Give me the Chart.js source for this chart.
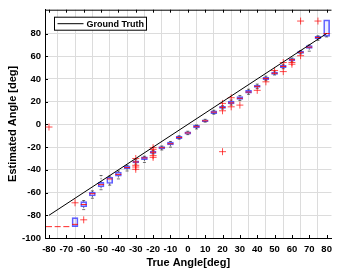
<!DOCTYPE html>
<html><head><meta charset="utf-8">
<script src="https://cdn.jsdelivr.net/npm/chart.js@4/dist/chart.umd.min.js"></script>
<style>html,body{margin:0;padding:0;background:#fff;}canvas{display:block;}</style>
</head><body>
<canvas id="c" width="338" height="274"></canvas>
<script>
// ---- data ----
const positions   = [-80,-75,-70,-65,-60,-55,-50,-45,-40,-35,-30,-25,-20,-15,-10,-5,0,5,10,15,20,25,30,35,40,45,50,55,60,65,70,75,80];
const q1          = [-90,-90,-90,-90,-72.5,-63,-55,-52,-45.5,-39,-34,-31,-25.5,-21.5,-18,-12.5,-8.5,-3,2.5,9.5,14,18,22,27.5,32.5,39.5,44,50,56,62.5,67,75.5,77.5];
const medians     = [-90,-90,-90,-88,-70.5,-61,-53,-48,-44,-38,-33,-29.5,-24.5,-20.5,-17,-11.5,-7.5,-2,3.2,10.8,15,19,23,28.5,33.5,40.5,45,51,57,63.5,68,76.5,80];
const q3          = [-90,-90,-90,-82,-68,-59.5,-51,-46.5,-42,-36.5,-32,-28.5,-23.5,-19.5,-15.5,-10.5,-6.5,-0.8,4,12,16,20.5,24.5,30,34.5,41.5,46,52,58,64.5,69.5,77.5,92];
const whiskerLow  = [-90,-90,-90,-90,-75,-65,-57.5,-53.5,-48,-41,-35,-33.5,-26,-22.5,-20,-13,-9,-4,2,9,13.5,17,21,26.5,31.5,38.5,43.5,49,55,62,64.5,74,77];
const whiskerHigh = [-90,-90,-90,-82,-67,-58.5,-45,-45.5,-41,-36,-31,-28,-23,-19,-15,-10,-6,-0.5,4.5,12.5,16.5,21.5,25.5,31,35.5,42.5,47,53,58.5,65,70,78,92];
const outlierX    = [-80,-65,-60,-30,-30,-30,-30,-20,-20,-20,-20,20,20,20,25,25,30,40,45,50,55,55,60,60,65,65,75];
const outlierY    = [-2.3,-69,-84,-30,-36,-37.5,-39.5,-20.5,-22,-27.5,-29,-24,18.5,12,23.5,15.5,17,30,37.5,47.5,54.5,46.5,54.5,53,60.5,91,91];
const truthX      = [-80, 80];
const truthY      = [-80, 80];
const xTicks      = [-80,-70,-60,-50,-40,-30,-20,-10,0,10,20,30,40,50,60,70,80];
const yTicks      = [-100,-80,-60,-40,-20,0,20,40,60,80];
const truthLabel  = 'Ground Truth';
const xTitle      = 'True Angle[deg]';
const yTitle      = 'Estimated Angle [deg]';

// ---- build datasets ----
const boxData = positions.map((p,i)=>({x:p, y:[q1[i], q3[i]]}));
const medData = positions.map((p,i)=>({x:p, y:medians[i]}));
const whiskData = [];
const capData = [];
positions.forEach((p,i)=>{
  whiskData.push({x:p,y:q3[i]},{x:p,y:whiskerHigh[i]},{x:p,y:null});
  whiskData.push({x:p,y:q1[i]},{x:p,y:whiskerLow[i]},{x:p,y:null});
  if (whiskerHigh[i] !== q3[i]) capData.push({x:p,y:whiskerHigh[i]});
  if (whiskerLow[i] !== q1[i]) capData.push({x:p,y:whiskerLow[i]});
});
const outData = outlierX.map((x,i)=>({x, y:outlierY[i]}));
const truthData = truthX.map((x,i)=>({x, y:truthY[i]}));

const FONT = "'Liberation Sans', Arial, Helvetica, sans-serif";

const framePlugin = {
  id:'frame',
  afterDatasetsDraw(chart){
    const {ctx, chartArea:a, scales:{x,y}} = chart;
    ctx.save();
    ctx.strokeStyle = '#000'; ctx.lineWidth = 1;
    ctx.beginPath();
    ctx.moveTo(a.left, a.top+0.5); ctx.lineTo(a.right, a.top+0.5);
    x.ticks.forEach(t=>{
      const px = Math.round(x.getPixelForValue(t.value))+0.5;
      ctx.moveTo(px, a.bottom); ctx.lineTo(px, a.bottom-3);
      ctx.moveTo(px, a.top); ctx.lineTo(px, a.top+3);
    });
    y.ticks.forEach(t=>{
      const py = Math.round(y.getPixelForValue(t.value))+0.5;
      ctx.moveTo(a.left, py); ctx.lineTo(a.left+3, py);
    });
    ctx.stroke();
    // legend box
    const lx = a.left + 9.5, ly = a.top + 7.5, lw = 92, lh = 13;
    ctx.fillStyle = '#fff';
    ctx.fillRect(lx, ly, lw, lh);
    ctx.strokeRect(lx, ly, lw, lh);
    ctx.beginPath();
    ctx.moveTo(lx+3, ly+lh/2); ctx.lineTo(lx+29, ly+lh/2);
    ctx.stroke();
    ctx.fillStyle = '#000';
    ctx.font = "bold 9px " + FONT;
    ctx.textBaseline = 'middle';
    ctx.textAlign = 'left';
    ctx.fillText(chart.data.datasets[5].label, lx+32, ly+lh/2+0.5);
    ctx.restore();
  }
};

new Chart(document.getElementById('c'), {
  type:'bar',
  data:{ datasets:[
    {type:'bar', label:'box', data:boxData, borderColor:'rgba(40,40,255,0.75)', backgroundColor:'rgba(140,140,255,0.15)', borderWidth:1, borderSkipped:false, barThickness:6, order:6},
    {type:'line', label:'whisker', data:whiskData, borderColor:'rgba(0,0,0,0.7)', borderWidth:0.8, borderDash:[1.5,1.5], pointRadius:0, spanGaps:false, fill:false, order:5},
    {type:'scatter', label:'cap', data:capData, pointStyle:'line', radius:1.5, borderColor:'rgba(0,0,0,0.7)', borderWidth:0.8, order:4},
    {type:'scatter', label:'median', data:medData, pointStyle:'line', radius:3, borderColor:'rgba(255,0,0,0.85)', borderWidth:1, order:3},
    {type:'scatter', label:'outlier', data:outData, pointStyle:'cross', radius:3.5, borderColor:'rgba(255,0,0,0.7)', borderWidth:1, order:2},
    {type:'line', label:truthLabel, data:truthData, borderColor:'#000', borderWidth:1, pointRadius:0, fill:false, order:1}
  ]},
  options:{
    responsive:false, devicePixelRatio:1, animation:false,
    layout:{padding:{top:7, right:0, left:0, bottom:0}},
    plugins:{legend:{display:false}, tooltip:{enabled:false}},
    scales:{
      x:{type:'linear', offset:false, min:-82.3, max:82.8,
        afterBuildTicks:s=>{s.ticks = xTicks.map(v=>({value:v}));},
        afterFit:s=>{s.height = 36;},
        grid:{color:'#dcdcdc', lineWidth:1, drawTicks:false},
        border:{display:true, color:'#000', width:1},
        ticks:{autoSkip:false, maxRotation:0, padding:6, color:'#000', font:{family:FONT, size:9.5, weight:'bold'}},
        title:{display:true, text:xTitle, color:'#000', padding:{top:2,bottom:4}, font:{family:FONT, size:11, weight:'bold'}}
      },
      y:{type:'linear', min:-100, max:101,
        afterBuildTicks:s=>{s.ticks = yTicks.map(v=>({value:v}));},
        afterFit:s=>{s.width = 45;},
        grid:{color:'#dcdcdc', lineWidth:1, drawTicks:false},
        border:{display:true, color:'#000', width:1},
        ticks:{autoSkip:false, padding:4, color:'#000', font:{family:FONT, size:9.5, weight:'bold'}},
        title:{display:true, text:yTitle, color:'#000', padding:{top:6,bottom:0}, font:{family:FONT, size:11, weight:'bold'}}
      }
    }
  },
  plugins:[framePlugin]
});
</script>
</body></html>
